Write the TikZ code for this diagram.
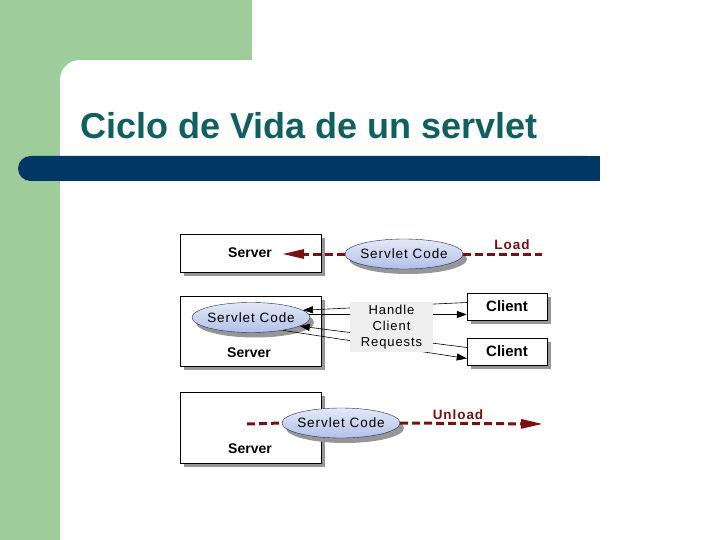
\documentclass[tikz,border=0pt]{standalone}
\usepackage{fontspec}
\setmainfont{Liberation Sans}
\newfontfamily\spacedfont[LetterSpace=7]{Liberation Sans}
\usepackage{xcolor}
\usepackage{tikz}
\usetikzlibrary{positioning,arrows.meta,shadows,shapes.geometric}
\definecolor{slidegreen}{RGB}{158,204,154}
\definecolor{barblue}{RGB}{0,55,100}
\definecolor{titleteal}{RGB}{16,96,96}
\definecolor{loadred}{RGB}{122,16,16}
\definecolor{codeblue}{RGB}{176,192,232}
\definecolor{codeedge}{RGB}{30,40,100}
\definecolor{shadowgray}{RGB}{150,150,150}
\tikzset{
    serverbox/.style={
        rectangle,
        draw=black,
        fill=white,
        inner sep=0pt,
        minimum width=141pt,
        drop shadow={shadow xshift=4pt, shadow yshift=-4pt, fill=shadowgray, opacity=1}
    },
    clientbox/.style={
        serverbox,
        minimum width=80pt,
        minimum height=27pt,
        font={\bfseries\fontsize{15pt}{17pt}\selectfont}
    },
    codeblob/.style={
        ellipse,
        draw=codeedge,
        top color=codeblue!35,
        bottom color=codeblue,
        minimum width=118pt,
        minimum height=30pt,
        inner xsep=-12pt,
        inner ysep=0pt,
        font={\spacedfont\fontsize{13.5pt}{15pt}\selectfont},
        drop shadow={shadow xshift=4pt, shadow yshift=-5pt, fill=shadowgray, opacity=1}
    },
    servertext/.style={font={\bfseries\fontsize{14pt}{15pt}\selectfont}},
    steplabel/.style={text=loadred, font={\bfseries\spacedfont\fontsize{13.5pt}{15pt}\selectfont}},
    lifeline/.style={draw=loadred, line width=3pt, dash pattern=on 8pt off 4pt},
    lifetip/.style={-{Triangle[length=22pt,width=9pt]}},
    request/.style={draw, semithick, -{Triangle[length=10pt,width=7pt]}},
}

\begin{document}
\begin{tikzpicture}[x=1pt, y=-1pt]
\useasboundingbox (0,0) rectangle (720,540);
\fill[white] (0,0) rectangle (720,540);
\fill[slidegreen] (0,0) rectangle (252,60);
\fill[slidegreen] (0,0) rectangle (60,540);
\fill[slidegreen] (60,60) rectangle (80,80);
\fill[white] (80,80) circle[radius=20pt];
\fill[barblue, rounded corners=12.5pt] (18,156) rectangle (600,181);
\fill[barblue] (580,156) rectangle (600,181);
\node[anchor=base west, inner sep=0pt, text=titleteal,
      font={\bfseries\fontsize{36pt}{40pt}\selectfont}] (Title) at (80,139) {Ciclo de Vida de un servlet};

% load
\node[serverbox, minimum height=38pt] (Srv1) at (250.5,253) {};
\node[servertext] (Srv1txt) at (250,253) {Server};
\node[codeblob] (Code1) at (404,254) {Servlet Code};
\coordinate (loadEnd) at (542,254);
\coordinate (loadTip) at (282,254);
\draw[lifeline, lifetip] (Code1.west) -- (loadTip);
\draw[lifeline] (Code1.east) -- (loadEnd);
\node[steplabel] (Load) at (512,245) {Load};

% handle
\node[serverbox, minimum height=70pt] (Srv2) at (250.5,331) {};
\node[servertext] (Srv2txt) at (249,353) {Server};
\node[codeblob] (Code2) at (251,317.5) {Servlet Code};
\node[clientbox] (Cli1) at (507,306.5) {Client};
\node[clientbox] (Cli2) at (507,351.5) {Client};
\draw[request] ([yshift=4pt]Cli1.west) -- (Code2.8);
\draw[request] (Code2.3) -- (Code2.3 -| Cli1.west);
\draw[request] ([yshift=4pt]Cli2.west) -- (Code2.-10);
\draw[request] (Code2.-22) -- ([yshift=-7pt]Cli2.west);
\node[fill=gray!13, minimum width=83pt, minimum height=50pt, inner sep=0pt, align=center,
      font={\spacedfont\fontsize{13pt}{16pt}\selectfont}] (Handle) at (391.5,327) {Handle\\Client\\Requests};

% unload
\node[serverbox, minimum height=71pt] (Srv3) at (250.5,427.5) {};
\node[servertext] (Srv3txt) at (250,449) {Server};
\node[codeblob] (Code3) at (341,423) {Servlet Code};
\coordinate (unloadStart) at (247,424);
\coordinate (unloadTip) at (543,424);
\draw[lifeline] (unloadStart) -- (Code3.west);
\draw[lifeline, lifetip] (Code3.east) -- (unloadTip);
\node[steplabel] (Unload) at (458,415) {Unload};
\end{tikzpicture}
\end{document}
